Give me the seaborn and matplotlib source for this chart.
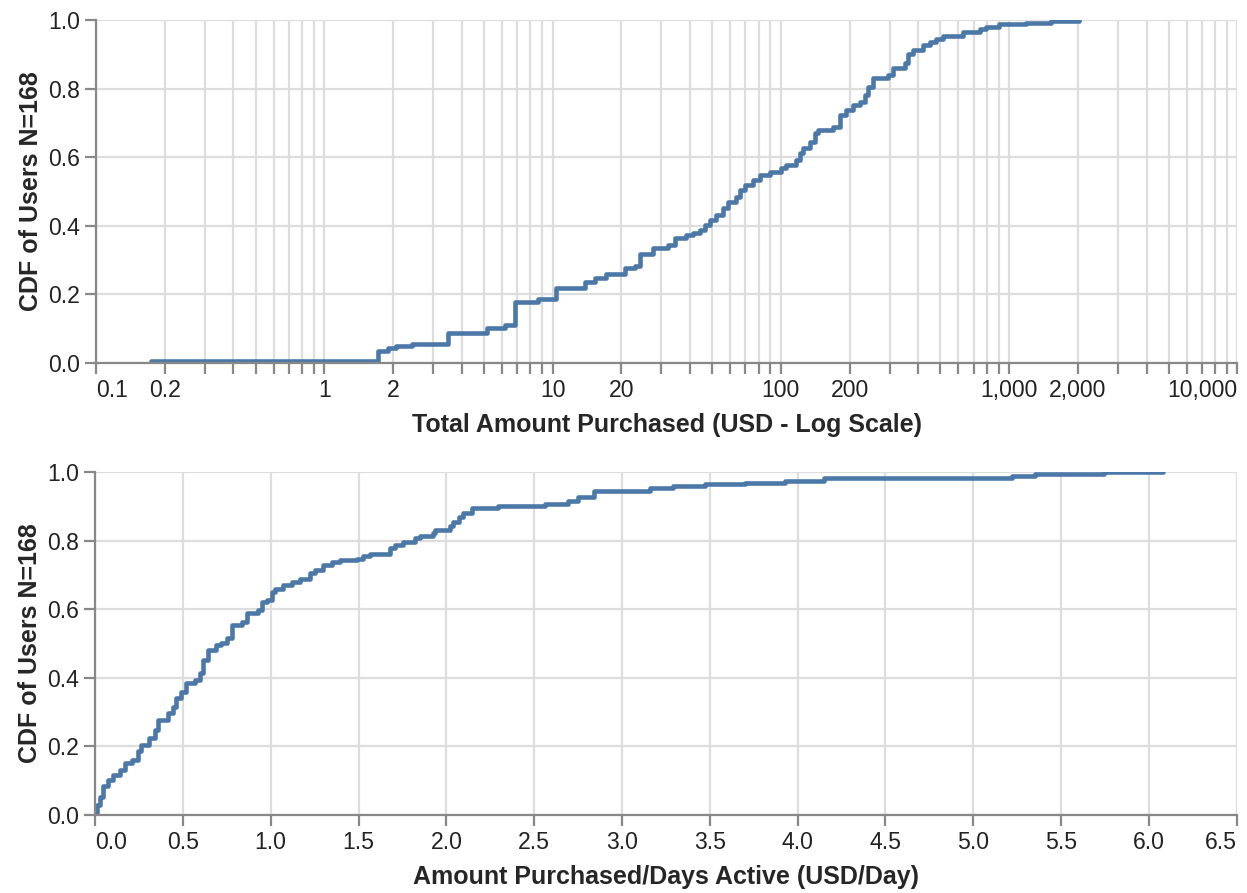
import matplotlib
matplotlib.use('Agg')

import seaborn as sns
import matplotlib.pyplot as plt
from matplotlib.ticker import FixedLocator, NullLocator

# Step points of the CDF (value, cumulative share), N=168 users
total_usd = [0.174, 1.72, 1.90, 2.06, 2.41, 3.47, 5.15, 6.18, 6.83, 8.61, 10.3, 13.8, 15.3,
             17.2, 20.7, 22.9, 24.1, 27.5, 31.9, 34.5, 38.6, 41.1, 44.1, 46.4, 48.8, 52.2,
             55.6, 58.5, 63.8, 66.0, 69.4, 75.3, 80.8, 89.3, 100.5, 105.7, 116.9, 120.8,
             124.5, 133.7, 140.6, 144.9, 168.6, 180.7, 193.6, 206.1, 221.3, 232.8, 239.9,
             252.3, 293.6, 308.8, 348.5, 359.1, 377.7, 417.6, 448.6, 479.9, 510.8, 627.1,
             741.8, 793.7, 907.5, 1188, 1528, 2030]
total_cdf = [0.006, 0.035, 0.044, 0.050, 0.054, 0.087, 0.103, 0.110, 0.179, 0.186, 0.218,
             0.237, 0.247, 0.259, 0.276, 0.284, 0.318, 0.334, 0.344, 0.363, 0.373, 0.379,
             0.388, 0.402, 0.417, 0.431, 0.451, 0.470, 0.485, 0.504, 0.519, 0.534, 0.548,
             0.558, 0.568, 0.577, 0.592, 0.612, 0.626, 0.645, 0.670, 0.679, 0.689, 0.723,
             0.738, 0.752, 0.762, 0.781, 0.806, 0.830, 0.840, 0.859, 0.875, 0.900, 0.912,
             0.927, 0.937, 0.946, 0.953, 0.966, 0.973, 0.981, 0.988, 0.992, 0.998, 1.000]

per_day_usd = [0.0, 0.01, 0.027, 0.046, 0.074, 0.10, 0.14, 0.17, 0.21, 0.245, 0.264, 0.31,
               0.34, 0.36, 0.415, 0.444, 0.463, 0.49, 0.52, 0.568, 0.596, 0.615, 0.644,
               0.69, 0.72, 0.75, 0.778, 0.835, 0.864, 0.93, 0.949, 0.978, 1.006, 1.025,
               1.072, 1.12, 1.167, 1.224, 1.253, 1.30, 1.348, 1.395, 1.49, 1.528, 1.566,
               1.68, 1.708, 1.756, 1.822, 1.85, 1.926, 1.936, 2.02, 2.04, 2.07, 2.097,
               2.145, 2.297, 2.563, 2.695, 2.75, 2.838, 3.16, 3.293, 3.474, 3.70, 3.93,
               4.148, 5.22, 5.353, 5.742, 6.08]
per_day_cdf = [0.006, 0.030, 0.053, 0.083, 0.102, 0.117, 0.131, 0.151, 0.160, 0.185, 0.204,
               0.224, 0.248, 0.277, 0.296, 0.316, 0.340, 0.359, 0.386, 0.392, 0.413, 0.452,
               0.481, 0.496, 0.500, 0.515, 0.554, 0.563, 0.588, 0.598, 0.622, 0.627, 0.651,
               0.660, 0.671, 0.680, 0.687, 0.705, 0.714, 0.729, 0.738, 0.743, 0.745, 0.755,
               0.761, 0.777, 0.787, 0.797, 0.807, 0.813, 0.823, 0.831, 0.841, 0.855, 0.870,
               0.881, 0.894, 0.901, 0.908, 0.916, 0.928, 0.945, 0.952, 0.959, 0.965, 0.969,
               0.975, 0.982, 0.988, 0.994, 0.999, 1.000]

# log axis: a tick at every 1..9 multiple, labels only on the 1s and 2s
log_ticks = [m * 10.0 ** e for e in range(-1, 4) for m in range(1, 10)] + [10000]
log_labels = []
for t in log_ticks:
    lab = f'{t:,.1f}' if t < 1 else f'{t:,.0f}'
    digits = lab.replace(',', '').replace('.', '').strip('0')
    log_labels.append(lab if digits in ('1', '2') else '')
lin_ticks = [i * 0.5 for i in range(14)]
y_ticks = [0.0, 0.2, 0.4, 0.6, 0.8, 1.0]

LINE_COLOR = '#4c78a8'
AXIS_COLOR = '#888888'
GRID_COLOR = '#dddddd'

sns.set_theme(style="whitegrid")
plt.rcParams['font.family'] = ['Liberation Sans', 'DejaVu Sans']


def style_axis(ax, xlabel):
    ax.set_axisbelow(True)
    ax.grid(True, color=GRID_COLOR, linewidth=1.6)
    for side in ('top', 'right'):
        ax.spines[side].set_visible(False)
    for side in ('left', 'bottom'):
        ax.spines[side].set_color(AXIS_COLOR)
        ax.spines[side].set_linewidth(1.6)
    ax.tick_params(axis='both', which='both', length=8.0, width=1.6, color=AXIS_COLOR,
                   labelsize=16.6, labelcolor='#222222', pad=3.2,
                   bottom=True, left=True)
    ax.set_ylim(0, 1)
    ax.yaxis.set_major_locator(FixedLocator(y_ticks))
    ax.set_yticklabels([f'{t:.1f}' for t in y_ticks])
    ax.set_ylabel('CDF of Users N=168', fontsize=18, fontweight='bold', labelpad=4)
    ax.set_xlabel(xlabel, fontsize=18, fontweight='bold', labelpad=8.5)
    labels = ax.get_xticklabels()
    labels[0].set_ha('left')
    labels[-1].set_ha('right')


fig = plt.figure(figsize=(12.47, 8.93), dpi=100)
ax1 = fig.add_axes([0.0770, 0.5935, 0.9153, 0.3841])
ax2 = fig.add_axes([0.0762, 0.0874, 0.9156, 0.3841])

sns.lineplot(x=total_usd, y=total_cdf, ax=ax1, drawstyle='steps-post', estimator=None,
             sort=False, color=LINE_COLOR, linewidth=3.3)
ax1.set_xscale('log')
ax1.set_xlim(0.1, 10000)
ax1.xaxis.set_major_locator(FixedLocator(log_ticks))
ax1.xaxis.set_minor_locator(NullLocator())
ax1.set_xticklabels(log_labels)
style_axis(ax1, 'Total Amount Purchased (USD - Log Scale)')

sns.lineplot(x=per_day_usd, y=per_day_cdf, ax=ax2, drawstyle='steps-post', estimator=None,
             sort=False, color=LINE_COLOR, linewidth=3.3)
ax2.set_xlim(0, 6.5)
ax2.xaxis.set_major_locator(FixedLocator(lin_ticks))
ax2.set_xticklabels([f'{t:.1f}' for t in lin_ticks])
style_axis(ax2, 'Amount Purchased/Days Active (USD/Day)')

plt.savefig('out.png', dpi=100)
plt.close()
